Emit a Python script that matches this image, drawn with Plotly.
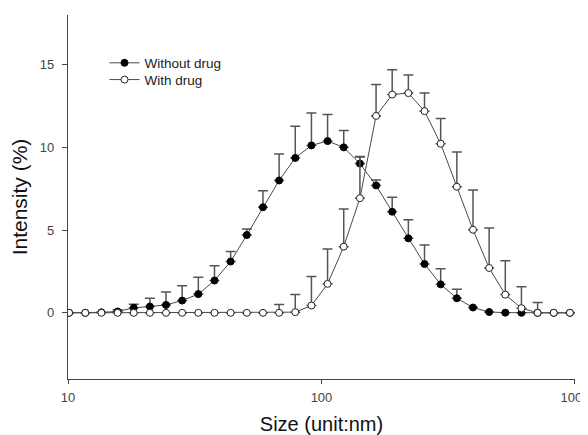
import plotly.graph_objects as go

sizes = [10.10, 11.70, 13.54, 15.69, 18.17, 21.04, 24.36, 28.21, 32.67, 37.84,
         43.82, 50.75, 58.77, 68.06, 78.82, 91.28, 105.7, 122.4, 141.8, 164.2,
         190.1, 220.2, 255.0, 295.3, 342.0, 396.1, 458.7, 531.2, 615.1, 712.4,
         825.0, 955.4]

without_drug = [0, 0, 0.03, 0.08, 0.3, 0.38, 0.48, 0.74, 1.13, 1.95,
                3.1, 4.7, 6.38, 8.0, 9.36, 10.12, 10.38, 10.0, 9.02, 7.7,
                6.11, 4.5, 2.95, 1.72, 0.88, 0.32, 0.05, 0.01, 0, 0,
                0, 0]
without_err = [None, None, None, 0.1, 0.22, 0.5, 0.78, 0.9, 1.02, 0.9,
               0.6, 0.36, 1.0, 1.6, 1.92, 1.96, 1.61, 1.02, 0.4, 0.32,
               0.88, 1.12, 1.15, 0.95, 0.55, None, None, None, None, None,
               None, None]

with_drug = [0, 0, 0, 0, 0, 0, 0, 0, 0, 0,
             0, 0, 0, 0, 0.04, 0.44, 1.75, 4.0, 6.93, 11.9,
             13.19, 13.28, 12.19, 10.22, 7.62, 5.02, 2.71, 1.1, 0.28, 0,
             0, 0]
with_err = [None, None, None, None, None, None, None, None, None, None,
            None, None, None, 0.5, 1.06, 1.75, 2.1, 2.28, 2.52, 1.9,
            1.5, 1.1, 1.1, 1.53, 2.1, 2.41, 2.41, 2.05, 1.3, 0.62,
            None, None]

x_tickvals = [10, 100, 1000]
x_ticktext = ["10", "100", "1000"]
y_tickvals = [0, 5, 10, 15]

FONT = "Arial, Liberation Sans, sans-serif"

fig = go.Figure()
fig.add_trace(go.Scatter(
    x=sizes, y=without_drug, name="Without drug", mode="lines+markers",
    line=dict(color="#4a4a4a", width=1), legend="legend",
    marker=dict(symbol="circle", size=7, color="black", line=dict(color="black", width=1)),
    error_y=dict(type="data", array=without_err, symmetric=False,
                 arrayminus=[0] * len(sizes), color="#555555", thickness=1.5, width=5),
))
fig.add_trace(go.Scatter(
    x=sizes, y=with_drug, name="With drug", mode="lines+markers",
    line=dict(color="#4a4a4a", width=1), legend="legend2",
    marker=dict(symbol="circle", size=7, color="white", line=dict(color="#222222", width=1)),
    error_y=dict(type="data", array=with_err, symmetric=False,
                 arrayminus=[0] * len(sizes), color="#555555", thickness=1.5, width=5),
))

legend_common = dict(xanchor="left", yanchor="middle", bgcolor="rgba(0,0,0,0)",
                     font=dict(size=13.5, color="#222222"), itemwidth=30)

fig.update_layout(
    width=580, height=427,
    margin=dict(l=60, r=13, t=7, b=56),
    paper_bgcolor="white", plot_bgcolor="white",
    font=dict(family=FONT, color="#333333", size=13),
    showlegend=True,
    legend=dict(x=0.072, y=0.868, **legend_common),
    legend2=dict(x=0.072, y=0.822, **legend_common),
    xaxis=dict(type="log", range=[1, 3.0002], tickvals=x_tickvals, ticktext=x_ticktext,
               automargin=False,
               showgrid=False, zeroline=False, showline=True, linecolor="#444444",
               linewidth=1.3, ticks="outside", ticklen=4, tickcolor="#444444",
               ticklabelstandoff=2, ticklabeloverflow="allow",
               tickfont=dict(size=13, color="#444444"),
               title=dict(text="Size (unit:nm)", font=dict(size=20, color="#111111"), standoff=14)),
    yaxis=dict(range=[-4, 18], tickvals=y_tickvals, showgrid=False, zeroline=False,
               automargin=False,
               showline=True, linecolor="#444444", linewidth=1.3, ticks="outside",
               ticklen=5, tickcolor="#444444", ticklabelstandoff=5,
               tickfont=dict(size=13, color="#444444"),
               title=dict(text="Intensity (%)", font=dict(size=21, color="#111111"), standoff=10)),
)

fig.write_html("out.html")
